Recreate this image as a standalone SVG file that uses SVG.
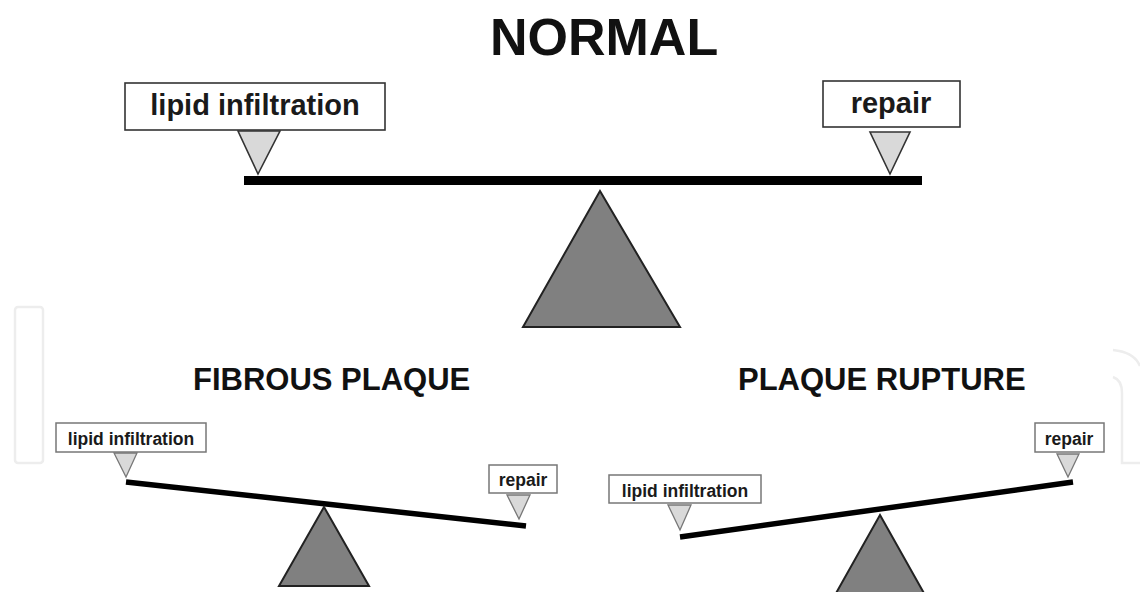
<svg xmlns="http://www.w3.org/2000/svg" width="1140" height="592" viewBox="0 0 1140 592">
<style>
  .title { font-family: "Liberation Sans", Arial, sans-serif; font-weight: bold; fill: #111; }
  .lbl { font-family: "Liberation Sans", Arial, sans-serif; font-weight: bold; fill: #1a1a1a; text-anchor: middle; }
  .box { fill: #fff; stroke: #333; stroke-width: 1.6; }
  .sbox { fill: #fff; stroke: #777; stroke-width: 1.5; }
  .ptr { fill: #d9d9d9; stroke: #333; stroke-width: 1.6; stroke-linejoin: miter; }
  .sptr { fill: #d9d9d9; stroke: #777; stroke-width: 1.3; }
  .fulcrum { fill: #808080; stroke: #222; stroke-width: 2; stroke-linejoin: miter; }
  .beam { stroke: #000; stroke-width: 5.5; stroke-linecap: butt; }
  .wm { fill: none; stroke: #ededed; stroke-width: 2.5; }
</style>
<rect width="1140" height="592" fill="#fff"/>

<g id="watermark">
  <rect class="wm" x="15" y="307" width="28" height="156" rx="3"/>
  <path class="wm" d="M1113,350 Q1134,352 1140,366"/>
  <path class="wm" d="M1113,377 Q1122,380 1122,393 L1122,463 L1140,463"/>
</g>

<g id="normal">
  <text class="title" x="490" y="55" font-size="52">NORMAL</text>
  <g id="normal-lipid">
    <rect class="box" x="125" y="83" width="260" height="47"/>
    <text class="lbl" x="255" y="115" font-size="29">lipid infiltration</text>
    <polygon class="ptr" points="238,131 280,131 258,174"/>
  </g>
  <g id="normal-repair">
    <rect class="box" x="823" y="81" width="137" height="46"/>
    <text class="lbl" x="891" y="113" font-size="29">repair</text>
    <polygon class="ptr" points="870,132 910,132 890,174"/>
  </g>
  <rect id="normal-beam" x="244" y="176" width="678" height="9" fill="#000"/>
  <polygon id="normal-fulcrum" class="fulcrum" points="600,191 680,327 523,327"/>
</g>

<g id="fibrous-plaque">
  <text class="title" x="193" y="390" font-size="31">FIBROUS PLAQUE</text>
  <g id="fp-lipid">
    <rect class="sbox" x="56" y="423" width="150" height="29"/>
    <text class="lbl" x="131" y="445" font-size="17.5">lipid infiltration</text>
    <polygon class="sptr" points="114,453 137,453 126,477"/>
  </g>
  <g id="fp-repair">
    <rect class="sbox" x="489" y="465" width="68" height="28"/>
    <text class="lbl" x="523" y="486" font-size="17.5">repair</text>
    <polygon class="sptr" points="507,495 530,495 519,519"/>
  </g>
  <line id="fp-beam" class="beam" x1="126" y1="482" x2="526" y2="526"/>
  <polygon id="fp-fulcrum" class="fulcrum" points="324,507 369,586 279,586"/>
</g>

<g id="plaque-rupture">
  <text class="title" x="738" y="390" font-size="31">PLAQUE RUPTURE</text>
  <g id="pr-lipid">
    <rect class="sbox" x="609" y="475" width="152" height="28"/>
    <text class="lbl" x="685" y="497" font-size="17.5">lipid infiltration</text>
    <polygon class="sptr" points="668,505 691,505 680,530"/>
  </g>
  <g id="pr-repair">
    <rect class="sbox" x="1035" y="423" width="69" height="29"/>
    <text class="lbl" x="1069" y="445" font-size="17.5">repair</text>
    <polygon class="sptr" points="1057,454 1079,454 1068,477"/>
  </g>
  <line id="pr-beam" class="beam" x1="680" y1="537" x2="1073" y2="482"/>
  <polygon id="pr-fulcrum" class="fulcrum" points="880,515 925,595 835,595"/>
</g>
</svg>
